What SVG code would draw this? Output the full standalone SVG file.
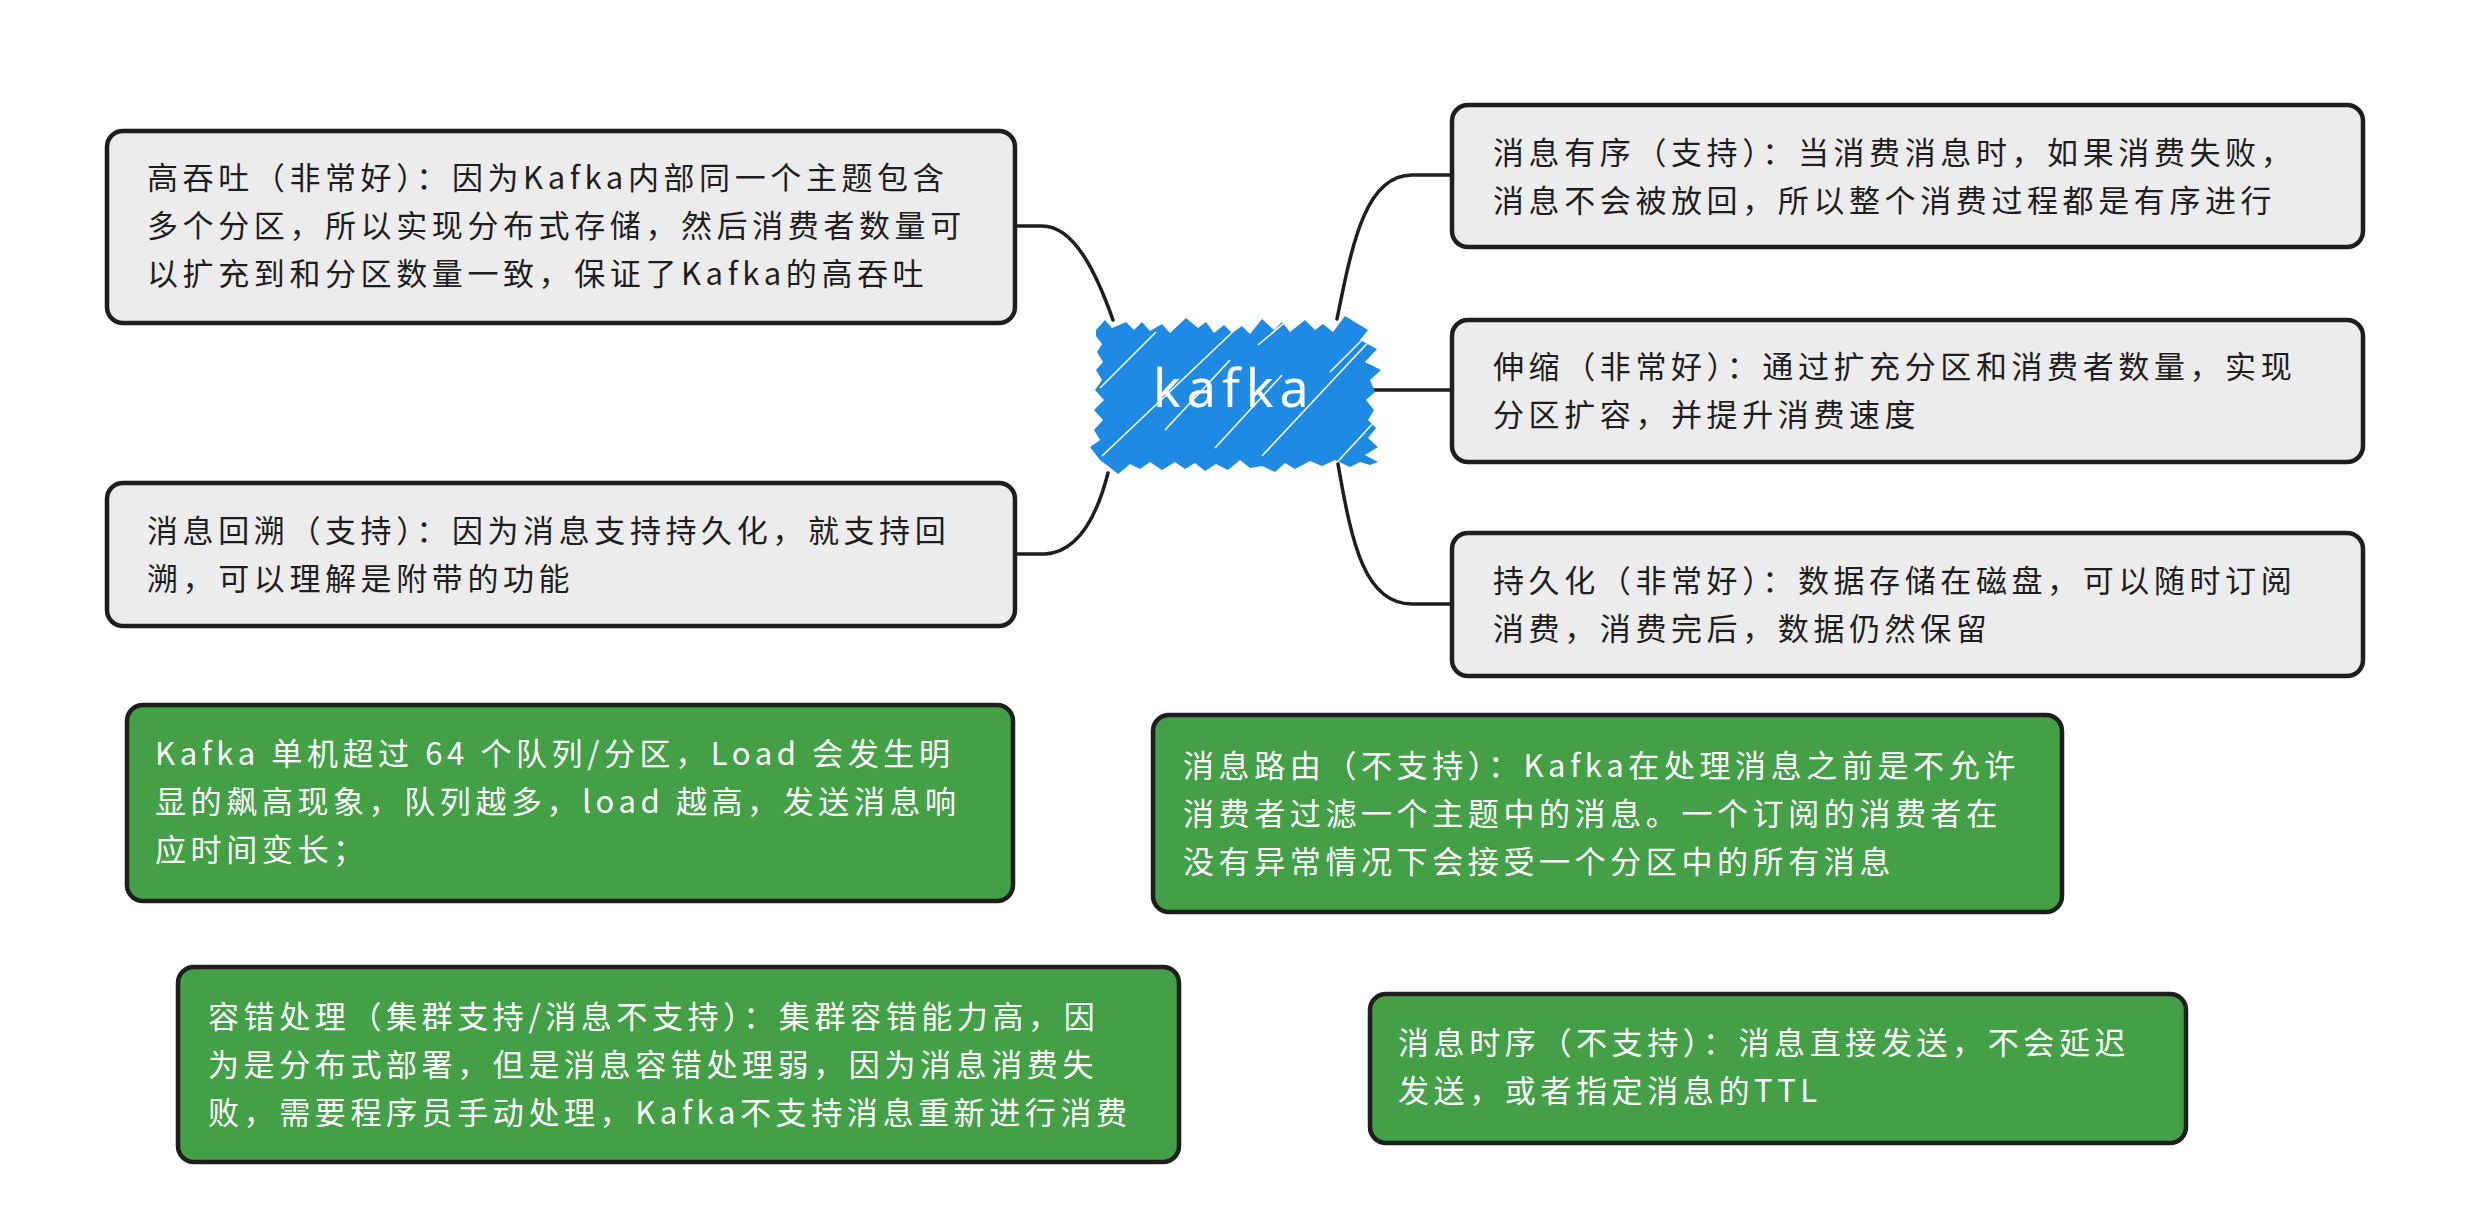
<svg xmlns="http://www.w3.org/2000/svg" width="2486" height="1220" viewBox="0 0 2486 1220">
<defs>
<style>
.box{fill:#ececec;stroke:#1e1e1e;stroke-width:4.5;stroke-linejoin:round}
.gbox{fill:#43a047;stroke:#1e1e1e;stroke-width:4.5;stroke-linejoin:round}
.t{font-family:"Noto Sans CJK SC","Noto Sans",sans-serif;font-size:31px;letter-spacing:4.6px;fill:#1e1e1e}
.w{fill:#ffffff}
.conn{fill:none;stroke:#1e1e1e;stroke-width:3.5;stroke-linecap:round}
</style>
<clipPath id="kclip"><polygon id="kpoly" points="1096,330 1105,320 1112,328 1126,322 1134,330 1142,322 1150,331 1162,324 1170,333 1186,318 1198,328 1206,322 1214,333 1224,325 1232,333 1242,326 1250,334 1262,319 1274,330 1282,322 1290,332 1305,320 1315,330 1323,324 1333,332 1345,316 1368,330 1360,340 1377,349 1365,362 1381,370 1370,380 1375,392 1366,400 1374,410 1368,420 1376,428 1368,438 1378,447 1365,455 1378,462 1370,465 1360,462 1350,467 1335,460 1322,466 1310,461 1295,469 1285,463 1275,472 1262,466 1250,468 1240,460 1228,470 1216,464 1205,471 1195,463 1185,469 1175,462 1162,470 1150,462 1140,469 1130,464 1118,474 1108,466 1100,460 1090,447 1100,440 1094,430 1103,420 1094,410 1104,400 1095,390 1102,380 1096,370 1103,362 1097,352 1102,344 1096,336"/></clipPath>
</defs>
<rect width="2486" height="1220" fill="#ffffff"/>

<g id="connectors">
<path class="conn" d="M1017,226 H1042 C1074,226 1096,272 1113,320"/>
<path class="conn" d="M1017,554 H1045 C1080,552 1098,512 1108,473"/>
<path class="conn" d="M1337,319 C1352,245 1365,175 1412,175 H1452"/>
<path class="conn" d="M1370,390 H1452"/>
<path class="conn" d="M1338,464 C1352,545 1365,604 1412,604 H1452"/>
</g>

<g id="node-kafka">
<polygon points="1096,330 1105,320 1112,328 1126,322 1134,330 1142,322 1150,331 1162,324 1170,333 1186,318 1198,328 1206,322 1214,333 1224,325 1232,333 1242,326 1250,334 1262,319 1274,330 1282,322 1290,332 1305,320 1315,330 1323,324 1333,332 1345,316 1368,330 1360,340 1377,349 1365,362 1381,370 1370,380 1375,392 1366,400 1374,410 1368,420 1376,428 1368,438 1378,447 1365,455 1378,462 1370,465 1360,462 1350,467 1335,460 1322,466 1310,461 1295,469 1285,463 1275,472 1262,466 1250,468 1240,460 1228,470 1216,464 1205,471 1195,463 1185,469 1175,462 1162,470 1150,462 1140,469 1130,464 1118,474 1108,466 1100,460 1090,447 1100,440 1094,430 1103,420 1094,410 1104,400 1095,390 1102,380 1096,370 1103,362 1097,352 1102,344 1096,336" fill="#1f8ae3"/>
<g clip-path="url(#kclip)" stroke="#ffffff" stroke-width="1.6" fill="none">
<path d="M1100,388 L1156,332"/>
<path d="M1102,456 L1240,325"/>
<path d="M1165,430 L1230,360"/>
<path d="M1215,448 L1282,375"/>
<path d="M1262,456 L1375,335"/>
<path d="M1330,470 L1376,420"/>
<path d="M1258,345 L1290,318"/>
<path d="M1330,372 L1372,330"/>
</g>
<text x="1153" y="407" font-family="'Noto Sans','Open Sans',sans-serif" font-size="52" letter-spacing="6" fill="#ffffff">kafka</text>
</g>

<g id="node-throughput">
<rect class="box" x="107" y="131" width="908" height="192" rx="16"/>
<text class="t"><tspan x="147" y="189">高吞吐（非常好）：因为Kafka内部同一个主题包含</tspan><tspan x="147" y="237">多个分区，所以实现分布式存储，然后消费者数量可</tspan><tspan x="147" y="285">以扩充到和分区数量一致，保证了Kafka的高吞吐</tspan></text>
</g>

<g id="node-backtrack">
<rect class="box" x="107" y="483" width="908" height="143" rx="16"/>
<text class="t"><tspan x="147" y="542">消息回溯（支持）：因为消息支持持久化，就支持回</tspan><tspan x="147" y="590">溯，可以理解是附带的功能</tspan></text>
</g>

<g id="node-order">
<rect class="box" x="1452" y="105" width="911" height="142" rx="16"/>
<text class="t"><tspan x="1493" y="164">消息有序（支持）：当消费消息时，如果消费失败，</tspan><tspan x="1493" y="212">消息不会被放回，所以整个消费过程都是有序进行</tspan></text>
</g>

<g id="node-scale">
<rect class="box" x="1452" y="320" width="911" height="142" rx="16"/>
<text class="t"><tspan x="1493" y="378">伸缩（非常好）：通过扩充分区和消费者数量，实现</tspan><tspan x="1493" y="426">分区扩容，并提升消费速度</tspan></text>
</g>

<g id="node-persist">
<rect class="box" x="1452" y="533" width="911" height="143" rx="16"/>
<text class="t"><tspan x="1493" y="592">持久化（非常好）：数据存储在磁盘，可以随时订阅</tspan><tspan x="1493" y="640">消费，消费完后，数据仍然保留</tspan></text>
</g>

<g id="node-load">
<rect class="gbox" x="127" y="705" width="886" height="196" rx="16"/>
<text class="t w"><tspan x="155" y="765">Kafka 单机超过 64 个队列/分区，Load 会发生明</tspan><tspan x="155" y="813">显的飙高现象，队列越多，load 越高，发送消息响</tspan><tspan x="155" y="861">应时间变长；</tspan></text>
</g>

<g id="node-routing">
<rect class="gbox" x="1153" y="715" width="909" height="197" rx="16"/>
<text class="t w"><tspan x="1183" y="777">消息路由（不支持）：Kafka在处理消息之前是不允许</tspan><tspan x="1183" y="825">消费者过滤一个主题中的消息。一个订阅的消费者在</tspan><tspan x="1183" y="873">没有异常情况下会接受一个分区中的所有消息</tspan></text>
</g>

<g id="node-fault">
<rect class="gbox" x="178" y="967" width="1001" height="195" rx="16"/>
<text class="t w"><tspan x="208" y="1028">容错处理（集群支持/消息不支持）：集群容错能力高，因</tspan><tspan x="208" y="1076">为是分布式部署，但是消息容错处理弱，因为消息消费失</tspan><tspan x="208" y="1124">败，需要程序员手动处理，Kafka不支持消息重新进行消费</tspan></text>
</g>

<g id="node-timing">
<rect class="gbox" x="1370" y="994" width="816" height="149" rx="16"/>
<text class="t w"><tspan x="1398" y="1054">消息时序（不支持）：消息直接发送，不会延迟</tspan><tspan x="1398" y="1102">发送，或者指定消息的TTL</tspan></text>
</g>
</svg>
